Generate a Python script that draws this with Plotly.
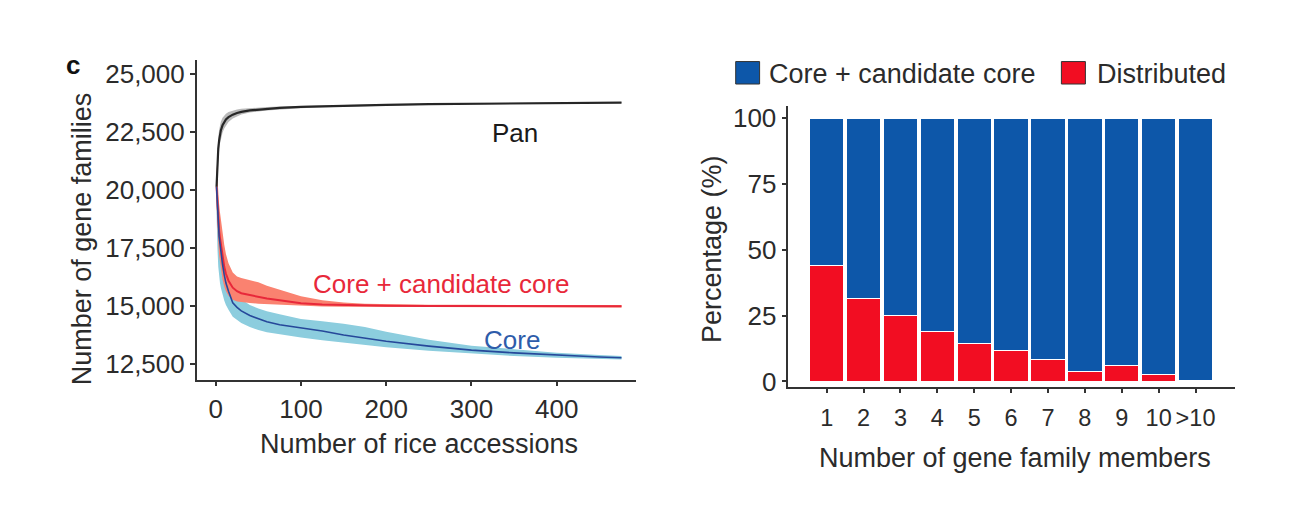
import plotly.graph_objects as go

W, H = 1306, 508

# ---------------- Left panel data ----------------
accessions = [1, 2, 3, 4, 5, 6, 8, 10, 12, 15, 20, 25, 30, 40, 50, 60, 75, 100,
              125, 150, 175, 200, 250, 300, 350, 400, 450, 476]

pan_mean = [20150, 21200, 21800, 22150, 22400, 22580, 22800, 22950, 23050, 23150,
            23260, 23330, 23380, 23440, 23480, 23510, 23550, 23590, 23620, 23640,
            23660, 23680, 23710, 23730, 23750, 23765, 23775, 23780]
pan_low = [19700, 20600, 21300, 21700, 22000, 22200, 22480, 22660, 22800, 22940,
           23090, 23190, 23260, 23350, 23400, 23440, 23490, 23540, 23580, 23605,
           23625, 23650, 23685, 23705, 23730, 23745, 23760, 23765]
pan_high = [20700, 21800, 22300, 22600, 22800, 22950, 23120, 23230, 23300, 23370,
            23440, 23480, 23510, 23545, 23570, 23590, 23615, 23645, 23665, 23680,
            23700, 23715, 23740, 23760, 23775, 23790, 23795, 23800]

cand_mean = [20150, 19300, 18700, 18250, 17950, 17650, 17100, 16700, 16400, 16100,
             15800, 15650, 15560, 15480, 15400, 15330, 15260, 15130, 15080, 15050,
             15035, 15020, 15010, 15005, 15000, 15000, 15000, 15000]
cand_low = [19300, 18400, 17700, 17200, 16850, 16600, 16150, 15850, 15650, 15450,
            15280, 15200, 15170, 15140, 15110, 15090, 15060, 15020, 14990, 14975,
            14965, 14960, 14955, 14950, 14950, 14950, 14950, 14950]
cand_high = [21100, 20400, 19850, 19400, 19050, 18750, 18150, 17650, 17250, 16850,
             16450, 16280, 16220, 16140, 16030, 15880, 15700, 15430, 15260, 15160,
             15110, 15085, 15065, 15060, 15060, 15055, 15055, 15050]

core_mean = [20150, 19200, 18500, 18000, 17700, 17350, 16800, 16350, 16000, 15650,
             15150, 14950, 14800, 14600, 14450, 14330, 14200, 14080, 13930, 13760,
             13620, 13490, 13280, 13110, 12990, 12890, 12810, 12780]
core_low = [19000, 17500, 16700, 16300, 16000, 15800, 15500, 15250, 15050, 14850,
            14550, 14400, 14280, 14100, 13980, 13880, 13780, 13650, 13530, 13420,
            13320, 13230, 13080, 12950, 12850, 12780, 12720, 12700]
core_high = [21000, 20000, 19300, 18800, 18400, 18050, 17500, 17000, 16650, 16250,
             15800, 15500, 15300, 15050, 14900, 14780, 14650, 14450, 14350, 14250,
             14100, 13900, 13550, 13300, 13150, 13000, 12900, 12860]

left_yticks = [12500, 15000, 17500, 20000, 22500, 25000]
left_xticks = [0, 100, 200, 300, 400]

# ---------------- Right panel data ----------------
members = ["1", "2", "3", "4", "5", "6", "7", "8", "9", "10", ">10"]
distributed = [44.0, 31.4, 24.9, 18.8, 14.4, 11.7, 8.3, 3.7, 6.0, 2.5, 0.5]
core_candidate = [56.0, 68.6, 75.1, 81.2, 85.6, 88.3, 91.7, 96.3, 94.0, 97.5, 99.5]
right_yticks = [0, 25, 50, 75, 100]

# ---------------- Styles ----------------
FONT = "Liberation Sans, Arial, Helvetica, sans-serif"
TXT = "#2b2b2b"
AX = "#333333"
BLUE_BAR = "#0D57A9"
RED_BAR = "#F20D22"
DY = 7  # visual-centre correction for annotation boxes (px)

fig = go.Figure()


def band(x, lo, hi, color):
    return go.Scatter(x=list(x) + list(x)[::-1], y=list(hi) + list(lo)[::-1],
                      fill="toself", fillcolor=color, line=dict(width=0),
                      mode="lines", hoverinfo="skip", showlegend=False,
                      xaxis="x", yaxis="y")


fig.add_trace(band(accessions, core_low, core_high, "rgba(140,205,222,1)"))
fig.add_trace(band(accessions, cand_low, cand_high, "rgba(250,130,112,1)"))
fig.add_trace(band(accessions, pan_low, pan_high, "rgba(185,185,185,1)"))

fig.add_trace(go.Scatter(x=accessions, y=cand_mean, mode="lines",
                         line=dict(color="#E8283A", width=2), showlegend=False,
                         xaxis="x", yaxis="y"))
fig.add_trace(go.Scatter(x=accessions, y=core_mean, mode="lines",
                         line=dict(color="#26489A", width=1.6), showlegend=False,
                         xaxis="x", yaxis="y"))
fig.add_trace(go.Scatter(x=accessions, y=pan_mean, mode="lines",
                         line=dict(color="#262626", width=2.2), showlegend=False,
                         xaxis="x", yaxis="y"))

fig.add_trace(go.Bar(x=members, y=distributed, name="Distributed",
                     marker=dict(color=RED_BAR, line=dict(color="white", width=1)),
                     width=0.93, showlegend=False, xaxis="x2", yaxis="y2"))
fig.add_trace(go.Bar(x=members, y=core_candidate, name="Core + candidate core",
                     marker=dict(color=BLUE_BAR, line=dict(color="white", width=1)),
                     width=0.93, showlegend=False, xaxis="x2", yaxis="y2"))

axis_common = dict(showline=True, linecolor=AX, linewidth=1.5, ticks="outside",
                   ticklen=5, tickwidth=1.5, tickcolor=AX, showgrid=False,
                   zeroline=False, tickangle=0)
tick26 = dict(family=FONT, size=26, color=TXT)

fig.update_layout(
    width=W, height=H, margin=dict(l=0, r=0, t=0, b=0),
    paper_bgcolor="white", plot_bgcolor="white", barmode="stack",
    bargap=0.07, showlegend=False,
    font=dict(family=FONT, color=TXT),
    xaxis=dict(domain=[196.7 / W, 636 / W], range=[-22.3, 493],
               tickvals=left_xticks, anchor="y", tickfont=tick26, **axis_common),
    yaxis=dict(domain=[1 - 386.7 / H, 1 - 59.3 / H], range=[11839, 25619],
               tickvals=left_yticks, tickformat=",d", anchor="x", tickfont=tick26,
               **axis_common),
    xaxis2=dict(domain=[788.3 / W, 1235 / W], type="category",
                range=[-1.04, 11.07], anchor="y2", ticklabelstandoff=4,
                tickfont=dict(family=FONT, size=23.5, color=TXT), **axis_common),
    yaxis2=dict(domain=[1 - 394 / H, 1 - 106.7 / H], range=[-2.0, 104.6],
                tickvals=right_yticks, anchor="x2", tickfont=tick26, **axis_common),
)


def ptext(x, y, text, size=27, color=TXT, angle=0, xanchor="center", bold=False,
          dx=0, dy=DY):
    fig.add_annotation(x=(x + dx) / W, y=1 - (y + dy) / H, xref="paper", yref="paper",
                       text=f"<b>{text}</b>" if bold else text, showarrow=False,
                       textangle=angle, xanchor=xanchor, yanchor="middle",
                       font=dict(family=FONT, size=size, color=color))


# Panel letter and axis titles
ptext(73, 65, "c", size=26, color="#111111", bold=True, dy=0)
ptext(419, 446, "Number of rice accessions")
ptext(75, 242, "Number of gene families", angle=-90, dx=7, dy=0)
ptext(705, 253, "Percentage (%)", angle=-90, dx=7, dy=0)
ptext(1015, 460, "Number of gene family members")

# In-plot curve labels (placed in data coordinates)
fig.add_annotation(x=351, y=22450, xref="x", yref="y", text="Pan", showarrow=False,
                   font=dict(family=FONT, size=26, color="#1a1a1a"))
fig.add_annotation(x=265, y=15950, xref="x", yref="y", text="Core + candidate core",
                   showarrow=False, font=dict(family=FONT, size=26, color="#E8283A"))
fig.add_annotation(x=347, y=13550, xref="x", yref="y", text="Core", showarrow=False,
                   font=dict(family=FONT, size=26, color="#2E5CAA"))

# Legend for right panel (keys + labels)
fig.add_shape(type="rect", xref="paper", yref="paper",
              x0=735.7 / W, x1=759.6 / W, y0=1 - 84 / H, y1=1 - 61 / H,
              fillcolor=BLUE_BAR, line=dict(color="#333333", width=1))
ptext(766.8, 72, "Core + candidate core", xanchor="left", dy=2)
fig.add_shape(type="rect", xref="paper", yref="paper",
              x0=1061.4 / W, x1=1085.4 / W, y0=1 - 84 / H, y1=1 - 61 / H,
              fillcolor=RED_BAR, line=dict(color="#333333", width=1))
ptext(1095.4, 72, "Distributed", xanchor="left", dy=2)

fig.write_html("out.html")
